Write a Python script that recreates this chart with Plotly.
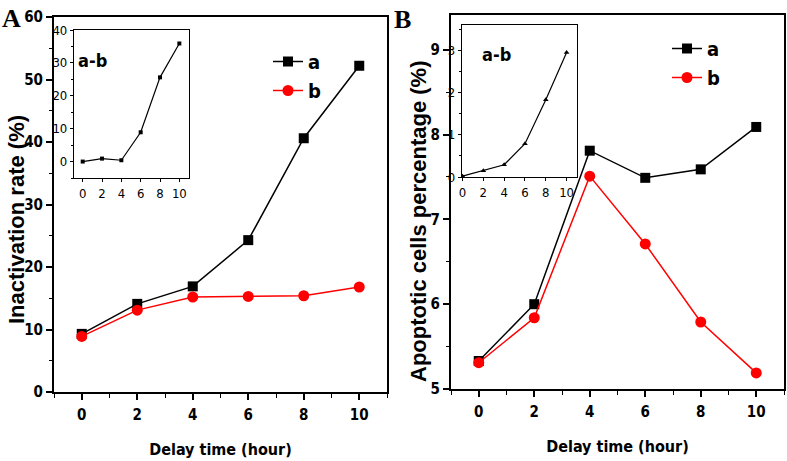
import plotly.graph_objects as go

hours = [0, 2, 4, 6, 8, 10]
inact_a = [9.3, 14.1, 16.9, 24.3, 40.6, 52.2]
inact_b = [8.9, 13.1, 15.2, 15.3, 15.4, 16.8]
inact_diff = [0.0, 0.9, 0.4, 8.9, 25.6, 35.9]
apop_a = [5.33, 6.0, 7.81, 7.49, 7.59, 8.09]
apop_b = [5.31, 5.84, 7.51, 6.71, 5.79, 5.19]
apop_diff = [0.02, 0.15, 0.29, 0.79, 1.83, 2.95]

NARROW = "DejaVu Sans Condensed, Liberation Sans Narrow, Liberation Sans, Arial, sans-serif"
SANS = "Liberation Sans, Arial, sans-serif"
W, H = 787, 461


def px_x(a, b):
    return [a / W, b / W]


def px_y(top, bottom):
    return [1 - bottom / H, 1 - top / H]


fig = go.Figure()

# Panel A main
fig.add_trace(go.Scatter(x=hours, y=inact_a, name="a", mode="lines+markers",
                         line=dict(color="black", width=1.5),
                         marker=dict(symbol="square", size=10, color="black"),
                         xaxis="x", yaxis="y", legend="legend"))
fig.add_trace(go.Scatter(x=hours, y=inact_b, name="b", mode="lines+markers",
                         line=dict(color="red", width=1.5),
                         marker=dict(symbol="circle", size=11, color="red"),
                         xaxis="x", yaxis="y", legend="legend"))
# Panel A inset
fig.add_trace(go.Scatter(x=hours, y=inact_diff, mode="lines+markers", showlegend=False,
                         line=dict(color="black", width=1.2),
                         marker=dict(symbol="square", size=4, color="black"),
                         xaxis="x2", yaxis="y2"))
# Panel B main
fig.add_trace(go.Scatter(x=hours, y=apop_a, name="a", mode="lines+markers",
                         line=dict(color="black", width=1.5),
                         marker=dict(symbol="square", size=10, color="black"),
                         xaxis="x3", yaxis="y3", legend="legend2"))
fig.add_trace(go.Scatter(x=hours, y=apop_b, name="b", mode="lines+markers",
                         line=dict(color="red", width=1.5),
                         marker=dict(symbol="circle", size=11, color="red"),
                         xaxis="x3", yaxis="y3", legend="legend2"))
# Panel B inset
fig.add_trace(go.Scatter(x=hours, y=apop_diff, mode="lines+markers", showlegend=False,
                         line=dict(color="black", width=1.2),
                         marker=dict(symbol="triangle-up", size=5, color="black"),
                         xaxis="x4", yaxis="y4"))

tick_font = dict(family=NARROW, size=15, color="black", weight="bold")
inset_font = dict(family=NARROW, size=13, color="black")


def main_axis(**kw):
    d = dict(showline=True, linecolor="black", linewidth=2, mirror=True,
             ticks="outside", ticklen=6, tickwidth=1.5, tickcolor="black",
             showgrid=False, zeroline=False, tickfont=tick_font, automargin=False)
    d.update(kw)
    return d


def inset_axis(**kw):
    d = dict(showline=True, linecolor="black", linewidth=1.2, mirror=True,
             ticks="outside", ticklen=3, tickwidth=1, tickcolor="black",
             showgrid=False, zeroline=False, tickfont=inset_font, automargin=False)
    d.update(kw)
    return d


xtitle_font = dict(family=NARROW, size=16, color="black", weight="bold")

fig.update_layout(
    width=W, height=H,
    margin=dict(l=0, r=0, t=0, b=0, autoexpand=False),
    paper_bgcolor="white", plot_bgcolor="rgba(0,0,0,0)",
    xaxis=main_axis(domain=px_x(54, 387), range=[-1, 11], dtick=2, tick0=0,
                    anchor="y", ticklabelstandoff=2,
                    minor=dict(ticks="outside", ticklen=4, tickwidth=1.2, dtick=1, tickcolor="black"),
                    title=dict(text="Delay time (hour)", font=xtitle_font, standoff=21)),
    yaxis=main_axis(domain=px_y(17, 392), range=[0, 60], dtick=10, anchor="x",
                    minor=dict(ticks="outside", ticklen=3, tickwidth=1.2, dtick=5, tickcolor="black")),
    xaxis2=inset_axis(domain=px_x(74, 189), range=[-0.9, 11], dtick=2, tick0=0, anchor="y2"),
    yaxis2=inset_axis(domain=px_y(30, 178), range=[-5, 40], dtick=10, anchor="x2",
                      minor=dict(ticks="outside", ticklen=2, dtick=5, tickcolor="black")),
    xaxis3=main_axis(domain=px_x(451, 784), range=[-1, 11], dtick=2, tick0=0, anchor="y3",
                     ticklabelstandoff=2,
                     minor=dict(ticks="outside", ticklen=4, tickwidth=1.2, dtick=1, tickcolor="black"),
                     title=dict(text="Delay time (hour)", font=xtitle_font, standoff=21)),
    yaxis3=main_axis(domain=px_y(15, 389), range=[5, 9.41], dtick=1, anchor="x3",
                     minor=dict(ticks="outside", ticklen=3, tickwidth=1.2, dtick=0.5, tickcolor="black")),
    xaxis4=inset_axis(domain=px_x(462, 577), range=[-0.05, 11], dtick=2, tick0=0, anchor="y4"),
    yaxis4=inset_axis(domain=px_y(25, 177), range=[0, 3.6], dtick=1, anchor="x4",
                      minor=dict(ticks="outside", ticklen=2, dtick=0.5, tickcolor="black")),
    legend=dict(x=268 / W, y=1 - 42 / H, xanchor="left", yanchor="top",
                bgcolor="rgba(0,0,0,0)", tracegroupgap=0,
                font=dict(family=NARROW, size=20, color="black", weight="bold")),
    legend2=dict(x=667 / W, y=1 - 29 / H, xanchor="left", yanchor="top",
                 bgcolor="rgba(0,0,0,0)", tracegroupgap=0,
                 font=dict(family=NARROW, size=20, color="black", weight="bold")),
    annotations=[
        dict(text="A", x=0, y=1 - 2 / H, xref="paper", yref="paper", xanchor="left", yanchor="top",
             showarrow=False, font=dict(family="Liberation Serif, Times New Roman, serif", size=26, color="black", weight="bold")),
        dict(text="B", x=392 / W, y=1 - 3 / H, xref="paper", yref="paper", xanchor="left", yanchor="top",
             showarrow=False, font=dict(family="Liberation Serif, Times New Roman, serif", size=26, color="black", weight="bold")),
        dict(text="a-b", x=92 / W, y=1 - 61 / H, xref="paper", yref="paper",
             xanchor="center", yanchor="middle",
             showarrow=False, font=dict(family=NARROW, size=18, color="black", weight="bold")),
        dict(text="a-b", x=496 / W, y=1 - 55 / H, xref="paper", yref="paper",
             xanchor="center", yanchor="middle",
             showarrow=False, font=dict(family=NARROW, size=18, color="black", weight="bold")),
        dict(text="Inactivation rate (%)", textangle=-90, x=17 / W, y=1 - 220 / H,
             xref="paper", yref="paper", xanchor="center", yanchor="middle", showarrow=False,
             font=dict(family=SANS, size=22, color="black", weight="bold")),
        dict(text="Apoptotic cells percentage (%)", textangle=-90, x=419 / W, y=1 - 221 / H,
             xref="paper", yref="paper", xanchor="center", yanchor="middle", showarrow=False,
             font=dict(family=SANS, size=22, color="black", weight="bold")),
    ],
)

fig.write_html("out.html", config={"displayModeBar": False},
               post_script="document.body.style.margin='0';document.body.style.overflow='hidden';")
